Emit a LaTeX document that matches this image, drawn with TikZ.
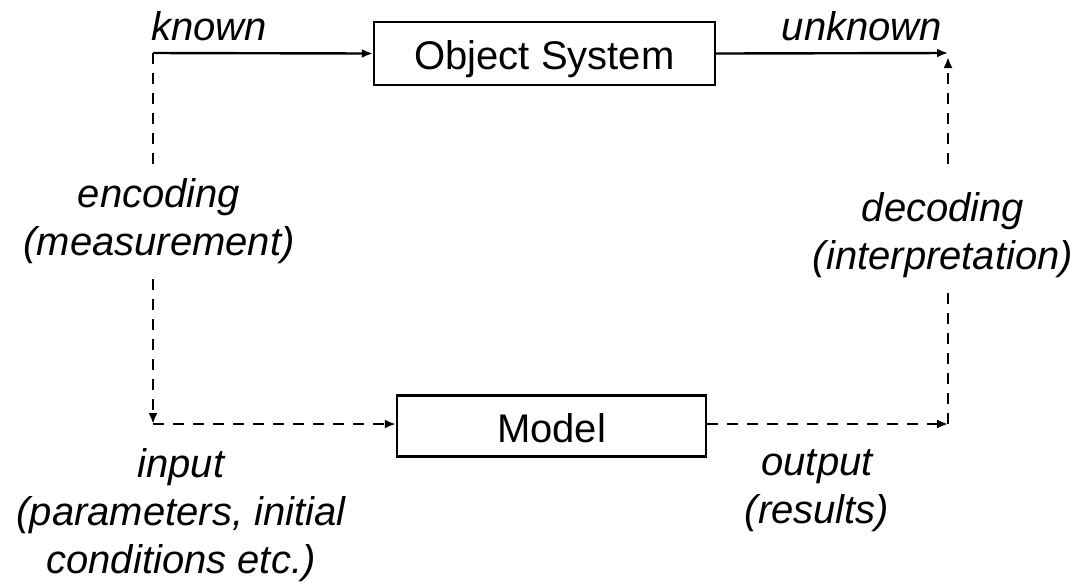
\documentclass[tikz,border=0pt]{standalone}
\usepackage{fontspec}
\setmainfont{Liberation Sans}
\usetikzlibrary{arrows.meta}
\begin{document}
\begin{tikzpicture}[x=0.5pt,y=-0.5pt,
  line width=1.2pt,
  tip/.style={-{Latex[length=5.5pt,width=4.5pt]}},
  dsh/.style={dash pattern=on 5.5pt off 4.5pt},
  box/.style={draw, line width=1.2pt, inner sep=0pt, text height=16pt, text depth=0pt, font=\fontsize{20}{24}\selectfont},
  lbl/.style={font=\fontsize{20}{24}\selectfont\itshape, align=center, inner sep=0pt},
]
\useasboundingbox (0,0) rectangle (1074,586);

\coordinate (k) at (153,53);
\coordinate (u) at (948,53);
\coordinate (u2) at (948,57);
\coordinate (i) at (153,424);
\coordinate (o) at (948,424);

\node[box, minimum width=170.5pt, minimum height=31.5pt] (obj) at (544.5,53.5) {Object System};
\node[box, minimum width=154.5pt, minimum height=30.5pt] (model) at (551.5,426) {Model};

\node[lbl] (known) at (209,26) {known};
\node[lbl] (unknown) at (862,26) {unknown};
\node[lbl, inner ysep=7pt] (enc) at (159,221.5) {encoding\\(measurement)};
\node[lbl, inner ysep=7pt] (dec) at (943,235.5) {decoding\\(interpretation)};
\node[lbl] (inp) at (181,515) {input\\(parameters, initial\\conditions etc.)};
\node[lbl] (outp) at (817,491) {output\\(results)};

\draw[tip] (k) -- (obj.west);
\draw[tip] (obj.east) -- (u);
\draw[dsh] (k) -- (enc.north -| k);
\draw[dsh,tip] (enc.south -| k) -- (i);
\draw[dsh,tip] (i) -- (i -| model.west);
\draw[dsh,tip] (o -| model.east) -- (o);
\draw[dsh] (o) -- (dec.south -| o);
\draw[dsh,tip] ([yshift=7pt]dec.north -| o) -- (u2);
\end{tikzpicture}
\end{document}
